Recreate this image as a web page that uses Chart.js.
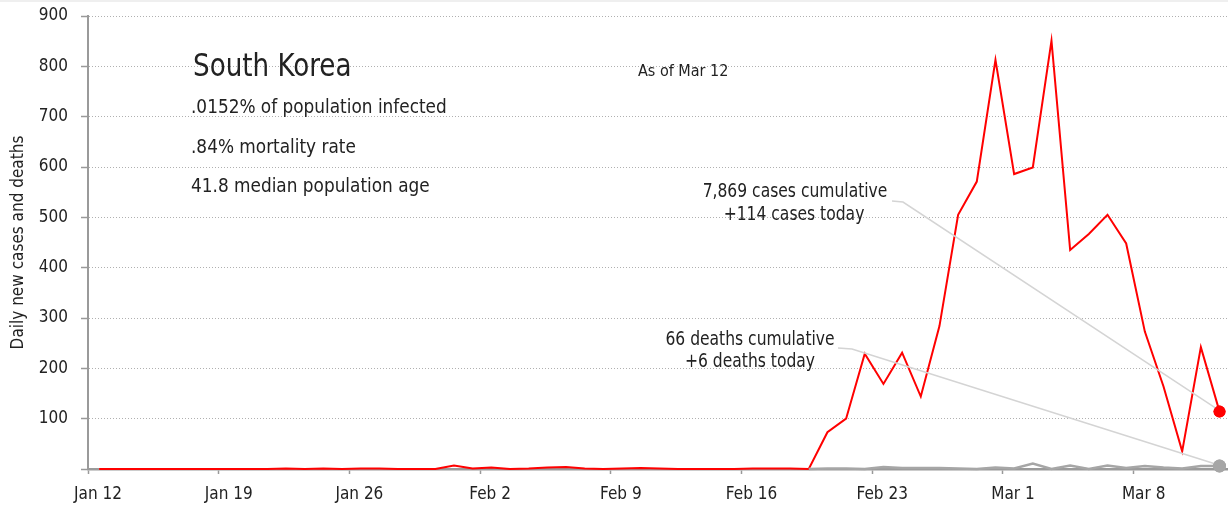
<!DOCTYPE html>
<html>
<head>
<meta charset="utf-8">
<script src="https://cdn.jsdelivr.net/npm/chart.js@4"></script>
<style>
  html,body{margin:0;padding:0;background:#fff;}
  #wrap{width:1228px;height:510px;position:relative;}
</style>
</head>
<body>
<div id="wrap"><canvas id="koreaChart" width="1228" height="510"></canvas></div>
<script>
// days counted from Jan 12, 2020 (day 0) to Mar 12 (day 60)
const tickDays = [0, 7, 14, 21, 28, 35, 42, 49, 56];
const tickLabels = ['Jan 12', 'Jan 19', 'Jan 26', 'Feb 2', 'Feb 9', 'Feb 16', 'Feb 23', 'Mar 1', 'Mar 8'];
const yTickValues = [0, 100, 200, 300, 400, 500, 600, 700, 800, 900];

// daily new cases, Jan 12 .. Mar 12
const newCases = [
  0, 0, 0, 0, 0, 0, 0, 0, 0, 0,        // Jan 12-21
  1, 0, 1, 0, 1, 1, 0, 0, 0, 7,        // Jan 22-31
  1, 3, 0, 1, 3, 4, 1, 0, 1, 2,        // Feb 1-10
  1, 0, 0, 0, 0, 1, 1, 1, 0, 73,       // Feb 11-20
  100, 229, 169, 231, 144, 284, 505, 571, 813, // Feb 21-29
  586, 599, 851, 435, 467, 505, 448, 273, 164, 35, 242, 114 // Mar 1-12
];

// daily new deaths, Feb 19 .. Mar 12
const deathsFirstDay = 38;
const newDeaths = [
  0, 1, 1, 0, 4, 2, 2, 2, 1, 0, 3,     // Feb 19-29
  1, 11, 0, 7, 0, 7, 2, 6, 3, 1, 6, 6  // Mar 1-12
];

const titleText = 'South Korea';
const infoLines = ['.0152% of population infected', '.84% mortality rate', '41.8 median population age'];
const asOfText = 'As of Mar 12';
const casesNote = ['7,869 cases cumulative', '+114 cases today'];
const deathsNote = ['66 deaths cumulative', '+6 deaths today'];

const reportOffset = 0.6; // points sit part-way into their day
const FONT = "'Liberation Sans Narrow', 'DejaVu Sans Condensed', Roboto, sans-serif";
const INK = '#222';

const casePoints = newCases.map((v, i) => ({x: i + reportOffset, y: v}));
const deathPoints = newDeaths.map((v, i) => ({x: deathsFirstDay + i + reportOffset, y: v}));

const lastDot = (r) => (ctx) => ctx.dataIndex === ctx.dataset.data.length - 1 ? r : 0;

// the original face is narrower than what we have, so squeeze it a little
function narrowText(c, text, x, y, squeeze, align) {
  c.save();
  c.translate(x, y);
  c.scale(squeeze, 1);
  c.textAlign = align || 'left';
  c.fillText(text, 0, 0);
  c.restore();
}

const notesPlugin = {
  id: 'notes',
  beforeDraw(chart) {
    const c = chart.ctx;
    c.save();
    c.fillStyle = '#efefef';
    c.fillRect(0, 0, chart.width, 2);
    c.restore();
  },
  afterDatasetsDraw(chart) {
    const c = chart.ctx;
    const xs = chart.scales.x, ys = chart.scales.y;
    c.save();

    // leader lines
    const lastCase = casePoints[casePoints.length - 1];
    const lastDeath = deathPoints[deathPoints.length - 1];
    c.strokeStyle = '#d4d4d4';
    c.lineWidth = 1.5;
    c.beginPath();
    c.moveTo(892, 201);
    c.lineTo(903, 202);
    c.lineTo(xs.getPixelForValue(lastCase.x) - 3, ys.getPixelForValue(lastCase.y) - 3);
    c.stroke();
    c.beginPath();
    c.moveTo(838, 348);
    c.lineTo(852, 349);
    c.lineTo(xs.getPixelForValue(lastDeath.x) - 4, ys.getPixelForValue(lastDeath.y) - 2);
    c.stroke();

    c.fillStyle = INK;
    c.textBaseline = 'alphabetic';
    c.font = '32px ' + FONT;
    narrowText(c, titleText, 193, 76, 0.91);
    c.font = '20px ' + FONT;
    infoLines.forEach((t, i) => narrowText(c, t, 191, 113 + i * 39.5, 0.94));
    c.font = '16px ' + FONT;
    c.fillText(asOfText, 638, 76);

    c.font = '19px ' + FONT;
    narrowText(c, casesNote[0], 795, 197, 0.91, 'center');
    narrowText(c, casesNote[1], 794, 220, 0.91, 'center');
    narrowText(c, deathsNote[0], 750, 345, 0.91, 'center');
    narrowText(c, deathsNote[1], 750, 367, 0.91, 'center');
    c.restore();
  },
  afterDraw(chart) {
    // the end dots sit on top of the x axis line
    chart.data.datasets.forEach((ds, i) => {
      const pts = chart.getDatasetMeta(i).data;
      pts[pts.length - 1].draw(chart.ctx);
    });
  }
};

new Chart(document.getElementById('koreaChart'), {
  type: 'line',
  data: {
    datasets: [
      {
        label: 'New cases',
        data: casePoints,
        borderColor: '#ff0000',
        backgroundColor: '#ff0000',
        borderWidth: 2,
        pointRadius: lastDot(6),
        pointBorderWidth: 0,
        tension: 0,
        clip: 8,
        order: 2
      },
      {
        label: 'New deaths',
        data: deathPoints,
        borderColor: '#a6a6a6',
        backgroundColor: '#a6a6a6',
        borderWidth: 2.5,
        pointRadius: lastDot(6.5),
        pointBorderWidth: 0,
        tension: 0,
        clip: 8,
        order: 1
      }
    ]
  },
  options: {
    responsive: false,
    animation: false,
    devicePixelRatio: 1,
    layout: {autoPadding: false, padding: {top: 16, right: 1, left: 0, bottom: 0}},
    plugins: {legend: {display: false}, tooltip: {enabled: false}},
    scales: {
      x: {
        type: 'linear',
        min: 0,
        max: 61,
        z: 1,
        afterBuildTicks: (scale) => { scale.ticks = tickDays.map(v => ({value: v})); },
        afterFit: (scale) => {
          scale.height = 41;
          scale.paddingLeft = 0;
          scale.paddingRight = 0;
        },
        grid: {drawOnChartArea: false, drawTicks: true, tickLength: 5, tickColor: '#999', tickWidth: 1.5},
        border: {color: '#9a9a9a', width: 2.5},
        ticks: {
          autoSkip: false,
          maxRotation: 0,
          padding: 10,
          labelOffset: 10,
          color: INK,
          font: {family: FONT, size: 17},
          callback: (v) => tickLabels[tickDays.indexOf(v)]
        }
      },
      y: {
        min: 0,
        max: 900,
        afterBuildTicks: (scale) => { scale.ticks = yTickValues.map(v => ({value: v})); },
        afterFit: (scale) => {
          scale.width = 88;
          scale.paddingTop = 0;
          scale.paddingBottom = 0;
        },
        grid: {
          color: (ctx) => ctx.tick && ctx.tick.value === 0 ? 'rgba(0,0,0,0)' : '#b0b0b0',
          lineWidth: 1,
          tickLength: 7,
          tickColor: '#999',
          tickWidth: 1.5,
          tickBorderDash: [0, 0]
        },
        border: {color: '#9a9a9a', width: 2, dash: [1, 2]},
        title: {
          display: true,
          text: 'Daily new cases and deaths',
          color: INK,
          font: {family: FONT, size: 17},
          padding: {top: 8, bottom: 0}
        },
        ticks: {
          padding: 13,
          color: INK,
          font: {family: FONT, size: 17},
          callback: (v) => v === 0 ? '' : v
        }
      }
    }
  },
  plugins: [notesPlugin]
});
</script>
</body>
</html>
